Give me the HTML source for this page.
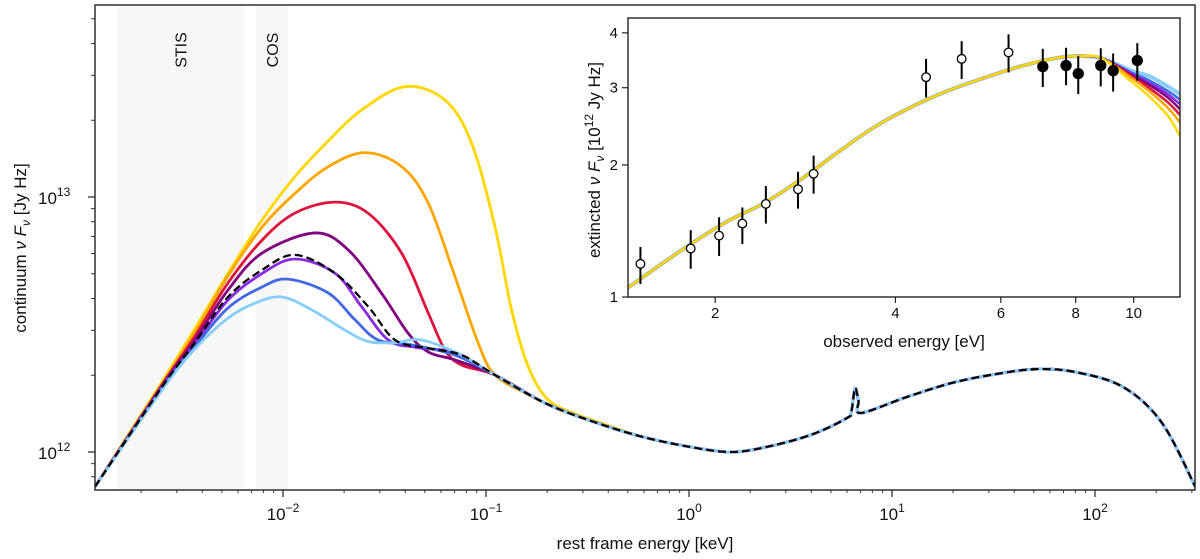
<!DOCTYPE html>
<html><head><meta charset="utf-8"><style>
body{margin:0;background:#fff;}
svg{display:block;font-family:"Liberation Sans","DejaVu Sans",sans-serif;}
</style></head><body>
<svg id="chart" width="1200" height="559" viewBox="0 0 1200 559" xmlns="http://www.w3.org/2000/svg">
<defs>
<clipPath id="mainClip"><rect x="95" y="5" width="1100" height="485"/></clipPath>
<clipPath id="insetClip"><rect x="628" y="18" width="552" height="279"/></clipPath>
</defs>
<g id="main"></g>
<g id="inset"></g>
</svg>
<script>
// ---------- main chart data (log10 keV, log10 Jy Hz) ----------
const bandNames = ["STIS","COS"];
const bandStart = [-2.818,-2.133];
const bandEnd = [-2.192,-1.975];
const xTickLabels = ["-2","-1","0","1","2"];
const yTickLabels = ["12","13"];
const seriesNames = ["yellow","orange","crimson","purple","blueviolet","royalblue","lightskyblue","dashed"];
const seriesColors = ["#ffd700","#ffa500","#dc143c","#800080","#8a2be2","#4169e1","#87cefa","#000"];
const softYellow = [[-2.926,11.864],[-2.596,12.275],[-2.433,12.485],[-2.271,12.700],[-2.103,12.910],[-1.941,13.080],[-1.777,13.220],[-1.613,13.341],[-1.399,13.433],[-1.202,13.380],[-1.071,13.211],[-0.956,12.884],[-0.874,12.557],[-0.792,12.335],[-0.693,12.204],[-0.545,12.145],[-0.463,12.122]];
const softOrange = [[-2.926,11.864],[-2.596,12.267],[-2.433,12.470],[-2.271,12.690],[-2.103,12.882],[-1.941,13.014],[-1.777,13.119],[-1.596,13.174],[-1.415,13.119],[-1.284,12.975],[-1.153,12.688],[-1.038,12.426],[-0.956,12.302],[-0.792,12.225]];
const softCrimson = [[-2.926,11.864],[-2.596,12.263],[-2.433,12.455],[-2.271,12.663],[-2.103,12.831],[-1.941,12.937],[-1.744,12.980],[-1.580,12.936],[-1.415,12.779],[-1.284,12.544],[-1.202,12.400],[-1.120,12.341],[-0.956,12.302]];
const softPurple = [[-2.926,11.864],[-2.596,12.259],[-2.433,12.440],[-2.271,12.635],[-2.103,12.780],[-1.842,12.859],[-1.678,12.792],[-1.514,12.622],[-1.383,12.465],[-1.284,12.392],[-1.153,12.361],[-0.956,12.302]];
const softBlueviolet = [[-2.926,11.864],[-2.596,12.255],[-2.433,12.425],[-2.271,12.596],[-2.103,12.700],[-1.941,12.757],[-1.744,12.701],[-1.613,12.570],[-1.481,12.439],[-1.350,12.411],[-1.219,12.400],[-1.120,12.380],[-0.956,12.302]];
const softRoyal = [[-2.926,11.864],[-2.596,12.251],[-2.433,12.415],[-2.271,12.565],[-2.103,12.647],[-1.975,12.678],[-1.778,12.624],[-1.645,12.518],[-1.531,12.439],[-1.366,12.420],[-1.153,12.380],[-0.956,12.302]];
const softLight = [[-2.926,11.864],[-2.596,12.243],[-2.433,12.405],[-2.271,12.525],[-2.138,12.584],[-2.005,12.608],[-1.857,12.557],[-1.695,12.478],[-1.580,12.433],[-1.448,12.429],[-1.317,12.439],[-1.120,12.380],[-0.956,12.302]];
const softDashed = [[-2.926,11.864],[-2.596,12.255],[-2.433,12.430],[-2.271,12.608],[-2.103,12.714],[-1.941,12.773],[-1.744,12.701],[-1.580,12.570],[-1.448,12.439],[-1.284,12.407],[-1.120,12.380],[-0.956,12.302]];
const baseCurve = [[-0.956,12.302],[-0.704,12.19],[-0.468,12.118],[-0.232,12.06],[0.005,12.02],[0.197,12.0],[0.36,12.016],[0.60,12.067],[0.778,12.133],[0.800,12.16],[0.818,12.25],[0.835,12.20],[0.847,12.153],[1.074,12.216],[1.31,12.274],[1.547,12.31],[1.714,12.325],[1.90,12.314],[2.138,12.255],[2.33,12.114],[2.497,11.859]];
// ---------- inset data ----------
const insetE = [1.43,1.585,1.82,2.10,2.42,2.79,3.21,3.69,4.25,4.89,5.63,6.49,7.47,8.13,8.85];
const insetY = [1.05,1.16,1.32,1.49,1.64,1.86,2.14,2.44,2.71,2.95,3.16,3.36,3.51,3.54,3.50];
const tailE = [9.91,10.6,11.4,11.95];
const tailYellow = [3.10,2.87,2.59,2.33];
const tailOrange = [3.16,2.95,2.70,2.50];
const tailCrimson = [3.19,3.00,2.78,2.60];
const tailPurple = [3.21,3.05,2.85,2.68];
const tailBlueviolet = [3.23,3.08,2.90,2.75];
const tailRoyal = [3.25,3.12,2.95,2.82];
const tailLight = [3.28,3.19,3.02,2.90];
const ptE = [1.50,1.82,2.03,2.22,2.43,2.75,2.92,4.50,5.16,6.18,7.05,7.71,8.08,8.81,9.24,10.14];
const ptY = [1.19,1.29,1.38,1.47,1.63,1.76,1.91,3.17,3.49,3.61,3.35,3.37,3.23,3.37,3.28,3.46];
const ptLo = [1.07,1.16,1.24,1.32,1.47,1.59,1.72,2.85,3.14,3.25,3.01,3.04,2.90,3.02,2.94,3.11];
const ptHi = [1.30,1.42,1.52,1.60,1.79,1.93,2.10,3.49,3.83,3.97,3.68,3.70,3.54,3.69,3.59,3.79];
const ptFilled = [0,0,0,0,0,0,0,0,0,0,1,1,1,1,1,1];
const insetXTicks = ["2","4","6","8","10"];
const insetYTicks = ["1","2","3","4"];

const NS="http://www.w3.org/2000/svg";
function mk(tag,attrs,parent){const e=document.createElementNS(NS,tag);for(const k in attrs)e.setAttribute(k,attrs[k]);parent.appendChild(e);return e;}
function X(l){return 283+(l+2)*203;}
function Y(l){return 452-(l-12)*255;}
const IL0=Math.log10(1.43), IL1=Math.log10(11.95);
function IX(e){return 628+(Math.log10(e)-IL0)/(IL1-IL0)*552;}
function IY(v){return 297-Math.log10(v)/0.636*279;}
function smooth(p){let d="M"+p[0][0].toFixed(2)+","+p[0][1].toFixed(2);
 for(let i=0;i<p.length-1;i++){const p0=p[Math.max(0,i-1)],p1=p[i],p2=p[i+1],p3=p[Math.min(p.length-1,i+2)];
 const c1=[p1[0]+(p2[0]-p0[0])/6,p1[1]+(p2[1]-p0[1])/6],c2=[p2[0]-(p3[0]-p1[0])/6,p2[1]-(p3[1]-p1[1])/6];
 d+="C"+c1[0].toFixed(2)+","+c1[1].toFixed(2)+" "+c2[0].toFixed(2)+","+c2[1].toFixed(2)+" "+p2[0].toFixed(2)+","+p2[1].toFixed(2);}return d;}

const main=document.getElementById('main');
for(let i=0;i<bandNames.length;i++){
 const r=mk('rect',{x:X(bandStart[i]),y:5,width:X(bandEnd[i])-X(bandStart[i]),height:485,fill:'#f7f7f7'},main);
 
 
 const cx=(X(bandStart[i])+X(bandEnd[i]))/2+6;
 const t=mk('text',{x:cx,y:50,'font-size':16,'text-anchor':'middle',transform:'rotate(-90 '+cx+' 50)',fill:'#111'},main);
 t.textContent=bandNames[i];
 
 
}
const softs=[softYellow,softOrange,softCrimson,softPurple,softBlueviolet,softRoyal,softLight,softDashed];
const cg=mk('g',{'clip-path':'url(#mainClip)'},main);
for(let s=0;s<softs.length;s++){
 const soft=softs[s];const last=soft[soft.length-1][0];
 const pts=soft.concat(baseCurve.filter(b=>b[0]>last+0.05)).map(p=>[X(p[0]),Y(p[1])]);
 const attrs={d:smooth(pts),fill:'none',stroke:seriesColors[s],'stroke-width':s==7?2.2:2.8,'stroke-linejoin':'round'};
 if(s==7)attrs['stroke-dasharray']='8,4';
 const path=mk('path',attrs,cg);
 
 
}
const fr=mk('rect',{x:95,y:5,width:1100,height:485,fill:'none',stroke:'#222','stroke-width':1.4},main);


for(let d=-3;d<=2;d++){for(let m=1;m<=9;m++){const l=d+Math.log10(m);if(l<-2.926||l>2.497)continue;
 mk('line',{x1:X(l),x2:X(l),y1:490,y2:m==1?497:493,stroke:'#222','stroke-width':m==1?1.2:0.9},main);}}
xTickLabels.forEach(v=>{const l=parseFloat(v);const t=mk('text',{x:X(l),y:520,'font-size':17,'text-anchor':'middle',fill:'#111'},main);
 t.innerHTML='10<tspan dy="-8" font-size="12">'+(v.startsWith('-')?'\u2212'+v.slice(1):v)+'</tspan>';
 
 });
for(let d=11;d<=13;d++){for(let m=1;m<=9;m++){const l=d+Math.log10(m);if(l<11.851||l>13.753)continue;
 mk('line',{x1:95,x2:m==1?88:91,y1:Y(l),y2:Y(l),stroke:'#222','stroke-width':m==1?1.2:0.9},main);}}
yTickLabels.forEach(v=>{const l=parseFloat(v);const t=mk('text',{x:38,y:Y(l)+7,'font-size':17,fill:'#111'},main);
 t.innerHTML='10<tspan dy="-8" font-size="12">'+v+'</tspan>';
 
 });
let t=mk('text',{x:645,y:549,'font-size':17,'text-anchor':'middle',fill:'#111'},main);t.textContent='rest frame energy [keV]';


t=mk('text',{x:26,y:248,'font-size':17,'text-anchor':'middle',transform:'rotate(-90 26 248)',fill:'#111'},main);
t.innerHTML='continuum <tspan font-style="italic">ν F</tspan><tspan font-size="12" dy="4" font-style="italic">ν</tspan><tspan dy="-4"> [Jy Hz]</tspan>';



const ins=document.getElementById('inset');
mk('rect',{x:628,y:18,width:552,height:279,fill:'#fff'},ins);
const ig=mk('g',{'clip-path':'url(#insetClip)'},ins);
const tails=[tailYellow,tailOrange,tailCrimson,tailPurple,tailBlueviolet,tailRoyal,tailLight];
for(let s=tails.length-1;s>=0;s--){
 const pts=insetE.map((e,i)=>[IX(e),IY(insetY[i])]).concat(tailE.map((e,i)=>[IX(e),IY(tails[s][i])]));
 const p=mk('path',{d:smooth(pts),fill:'none',stroke:seriesColors[s],'stroke-width':s==6?4:2.5,'stroke-linejoin':'round'},ig);
 
 
}
for(let i=0;i<ptE.length;i++){
 const ln=mk('line',{x1:IX(ptE[i]),x2:IX(ptE[i]),y1:IY(ptLo[i]),y2:IY(ptHi[i]),stroke:'#000','stroke-width':2},ig);
 
 
 const c=mk('circle',{cx:IX(ptE[i]),cy:IY(ptY[i]),r:ptFilled[i]?5:4.3,fill:ptFilled[i]?'#000':'#fff',stroke:'#000','stroke-width':1.3},ig);
 
 
}
const ifr=mk('rect',{x:628,y:18,width:552,height:279,fill:'none',stroke:'#222','stroke-width':1.4},ins);


insetXTicks.forEach(v=>{const x=IX(parseFloat(v));mk('line',{x1:x,x2:x,y1:297,y2:303,stroke:'#222','stroke-width':1.2},ins);
 const tt=mk('text',{x:x,y:318,'font-size':15,'text-anchor':'middle',fill:'#111'},ins);tt.textContent=v;
 
 });
insetYTicks.forEach(v=>{const y=IY(parseFloat(v));mk('line',{x1:628,x2:622,y1:y,y2:y,stroke:'#222','stroke-width':1.2},ins);
 const tt=mk('text',{x:618,y:y+5,'font-size':15,'text-anchor':'end',fill:'#111'},ins);tt.textContent=v;
 
 });
t=mk('text',{x:904,y:347,'font-size':17,'text-anchor':'middle',fill:'#111'},ins);t.textContent='observed energy [eV]';


t=mk('text',{x:600,y:160,'font-size':17,'text-anchor':'middle',transform:'rotate(-90 600 160)',fill:'#111'},ins);
t.innerHTML='extincted <tspan font-style="italic">ν F</tspan><tspan font-size="12" dy="4" font-style="italic">ν</tspan><tspan dy="-4"> [10</tspan><tspan font-size="12" dy="-7">12</tspan><tspan dy="7"> Jy Hz]</tspan>';


</script>
</body></html>
